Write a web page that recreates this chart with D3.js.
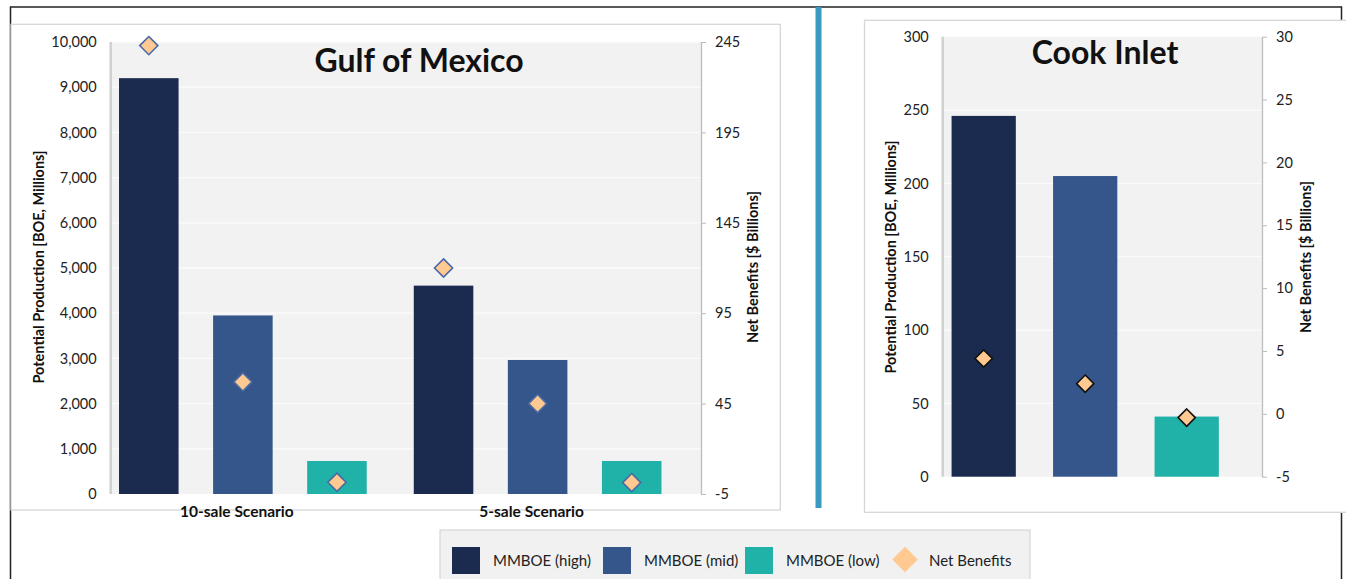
<!DOCTYPE html>
<html>
<head>
<meta charset="utf-8">
<script src="https://cdn.jsdelivr.net/npm/d3@7"></script>
<style>
  body { margin: 0; background: #fff; }
  svg { display: block; font-family: Lato, "Open Sans", sans-serif; }
</style>
</head>
<body>
<svg id="chart" width="1346" height="579"></svg>
<script>
// ---- data ----
const seriesNames = ['MMBOE (high)', 'MMBOE (mid)', 'MMBOE (low)'];
const seriesColors = ['#1b2b4f', '#34568a', '#20b1a8'];
const benefitName = 'Net Benefits';

const gomScenarios = ['10-sale Scenario', '5-sale Scenario'];
const gomProduction = [[9200, 3950, 730], [4610, 2965, 730]];
const gomNetBenefits = [[243, 57, 1.5], [120, 45, 1.3]];
const gomLeftTicks = [0, 1000, 2000, 3000, 4000, 5000, 6000, 7000, 8000, 9000, 10000];
const gomRightTicks = [-5, 45, 95, 145, 195, 245];

const cookScenarios = [''];
const cookProduction = [[246, 205, 41]];
const cookNetBenefits = [[4.4, 2.4, -0.3]];
const cookLeftTicks = [0, 50, 100, 150, 200, 250, 300];
const cookRightTicks = [-5, 0, 5, 10, 15, 20, 25, 30];

// plain hyphen for negatives, like the original
const plain = d => String(d);

class ComboChart {
    constructor (config, groups, production, benefits) {
        this.config = config;
        this.groups = groups;
        this.production = production;
        this.benefits = benefits;
        this.init();
        this.render();
    }

    init() {
        let self = this;
        const c = self.config;

        self.g = d3.select(c.parent).append('g');

        // panel frame
        self.g.append('rect')
            .attr('x', c.panel[0]).attr('y', c.panel[1])
            .attr('width', c.panel[2]).attr('height', c.panel[3])
            .attr('fill', '#fff')
            .attr('stroke', '#d6d6d6')
            .attr('stroke-width', 1.3);

        self.yleft = d3.scaleLinear()
            .domain(d3.extent(c.leftTicks))
            .range([c.bottom, c.top]);

        self.yright = d3.scaleLinear()
            .domain(d3.extent(c.rightTicks))
            .range([c.bottom, c.top]);

        self.xgroup = d3.scaleBand()
            .domain(self.groups)
            .range(c.bandRange);

        self.xinner = d3.scaleBand()
            .domain(seriesNames)
            .range([0, self.xgroup.bandwidth()])
            .paddingInner(0.367)
            .paddingOuter(0.25);

        // plot background
        self.g.append('rect')
            .attr('x', c.left).attr('y', c.top)
            .attr('width', c.right - c.left).attr('height', c.bottom - c.top)
            .attr('fill', '#f2f2f2');

        // gridlines
        self.g.append('g')
            .selectAll('line')
            .data(c.leftTicks.slice(1))
            .join('line')
            .attr('x1', c.left).attr('x2', c.right)
            .attr('y1', d => self.yleft(d)).attr('y2', d => self.yleft(d))
            .attr('stroke', '#fbfbfb')
            .attr('stroke-width', 1.3);

        // left axis: only a line and labels
        self.g.append('line')
            .attr('x1', c.left).attr('x2', c.left)
            .attr('y1', c.top).attr('y2', c.bottom)
            .attr('stroke', '#d0d0d0')
            .attr('stroke-width', 2.5);

        self.g.append('g')
            .attr('transform', `translate(${c.left}, 0)`)
            .call(d3.axisLeft(self.yleft).tickValues(c.leftTicks).tickSize(0).tickPadding(c.leftPad).tickFormat(c.leftFormat))
            .call(g => g.select('.domain').remove())
            .call(g => g.selectAll('text').attr('font-size', 14.5).attr('fill', '#222').attr('font-family', 'Lato'));

        // right axis
        self.g.append('g')
            .attr('transform', `translate(${c.right}, 0)`)
            .call(d3.axisRight(self.yright).tickValues(c.rightTicks).tickSize(5).tickPadding(9).tickSizeOuter(0).tickFormat(plain))
            .call(g => g.select('.domain').attr('stroke', '#bdbdbd').attr('stroke-width', 1.3))
            .call(g => g.selectAll('line').attr('stroke', '#bdbdbd'))
            .call(g => g.selectAll('text').attr('font-size', 14.5).attr('fill', '#222').attr('font-family', 'Lato'));

        // title
        self.g.append('text')
            .attr('x', c.titlePos[0]).attr('y', c.titlePos[1])
            .attr('text-anchor', 'middle')
            .attr('font-size', 32).attr('font-weight', 'bold')
            .attr('fill', '#111')
            .text(c.title);

        // axis titles
        self.g.append('text')
            .attr('transform', `translate(${c.leftLabelX}, ${c.labelMidY}) rotate(-90)`)
            .attr('text-anchor', 'middle')
            .attr('font-size', 14.5).attr('font-weight', 'bold')
            .attr('fill', '#111')
            .text('Potential Production [BOE, Millions]');

        self.g.append('text')
            .attr('transform', `translate(${c.rightLabelX}, ${c.labelMidY}) rotate(-90)`)
            .attr('text-anchor', 'middle')
            .attr('font-size', 14.5).attr('font-weight', 'bold')
            .attr('fill', '#111')
            .text('Net Benefits [$ Billions]');
    }

    render() {
        let self = this;
        const c = self.config;

        const rows = [];
        self.groups.forEach((grp, i) => {
            seriesNames.forEach((s, j) => {
                rows.push({group: grp, series: s, color: seriesColors[j],
                           value: self.production[i][j], benefit: self.benefits[i][j]});
            });
        });

        const xpos = d => self.xgroup(d.group) + self.xinner(d.series);

        self.g.append('g')
            .selectAll('rect')
            .data(rows)
            .join('rect')
            .attr('x', xpos)
            .attr('y', d => self.yleft(d.value))
            .attr('width', self.xinner.bandwidth())
            .attr('height', d => self.yleft(0) - self.yleft(d.value))
            .attr('fill', d => d.color);

        // category labels
        self.g.append('g')
            .selectAll('text')
            .data(self.groups.filter(d => d !== ''))
            .join('text')
            .attr('x', d => self.xgroup(d) + self.xgroup.bandwidth() / 2 - 6)
            .attr('y', c.bottom + 23)
            .attr('text-anchor', 'middle')
            .attr('font-size', 15.5).attr('font-weight', 'bold')
            .attr('fill', '#111')
            .text(d => d);

        const diamond = d3.symbol().type(d3.symbolDiamond2).size(c.markerSize);
        self.g.append('g')
            .selectAll('path')
            .data(rows)
            .join('path')
            .attr('d', diamond)
            .attr('transform', d => `translate(${xpos(d) + self.xinner.bandwidth() / 2}, ${self.yright(d.benefit)})`)
            .attr('fill', '#ffc991')
            .attr('stroke', c.markerStroke)
            .attr('stroke-width', 1.6);
    }
}

const svg = d3.select('#chart');

// outer frame
svg.append('rect')
    .attr('x', 10.5).attr('y', 7)
    .attr('width', 1331).attr('height', 590)
    .attr('fill', '#fff')
    .attr('stroke', '#222')
    .attr('stroke-width', 1.5);

new ComboChart({
    parent: '#chart',
    panel: [11, 24.3, 769.3, 485.7],
    left: 110.7, right: 701, top: 42, bottom: 494,
    bandRange: [95.5, 685],
    leftTicks: gomLeftTicks, rightTicks: gomRightTicks,
    leftFormat: d3.format(','), leftPad: 14,
    title: 'Gulf of Mexico', titlePos: [419, 72],
    leftLabelX: 44, rightLabelX: 758, labelMidY: 267,
    markerSize: 210, markerStroke: '#4b6aa3'
}, gomScenarios, gomProduction, gomNetBenefits);

new ComboChart({
    parent: '#chart',
    panel: [864.5, 20.3, 500, 492],
    left: 942.7, right: 1262, top: 36.7, bottom: 476.7,
    bandRange: [926.2, 1244.2],
    leftTicks: cookLeftTicks, rightTicks: cookRightTicks,
    leftFormat: plain, leftPad: 14,
    title: 'Cook Inlet', titlePos: [1105, 64],
    leftLabelX: 896, rightLabelX: 1311, labelMidY: 257,
    markerSize: 190, markerStroke: '#111'
}, cookScenarios, cookProduction, cookNetBenefits);

// blue divider
svg.append('line')
    .attr('x1', 818.5).attr('x2', 818.5)
    .attr('y1', 7).attr('y2', 508)
    .attr('stroke', '#3a9ac1')
    .attr('stroke-width', 6);

// legend
const legend = svg.append('g');
legend.append('rect')
    .attr('x', 440).attr('y', 530)
    .attr('width', 590).attr('height', 60)
    .attr('fill', '#f1f1f1')
    .attr('stroke', '#cfcfcf');

const legendX = d3.scaleOrdinal()
    .domain(seriesNames.concat([benefitName]))
    .range([452, 603, 745, 891]);

legend.selectAll('rect.sw')
    .data(seriesNames)
    .join('rect')
    .attr('class', 'sw')
    .attr('x', d => legendX(d)).attr('y', 547)
    .attr('width', 28).attr('height', 27)
    .attr('fill', (d, i) => seriesColors[i]);

legend.append('path')
    .attr('d', d3.symbol().type(d3.symbolDiamond2).size(420))
    .attr('transform', `translate(${legendX(benefitName) + 14}, 559.5)`)
    .attr('fill', '#ffc991');

legend.selectAll('text')
    .data(seriesNames.concat([benefitName]))
    .join('text')
    .attr('x', d => legendX(d) + (d === benefitName ? 38 : 41))
    .attr('y', 566)
    .attr('font-size', 15)
    .attr('fill', '#222')
    .text(d => d);
</script>
</body>
</html>
